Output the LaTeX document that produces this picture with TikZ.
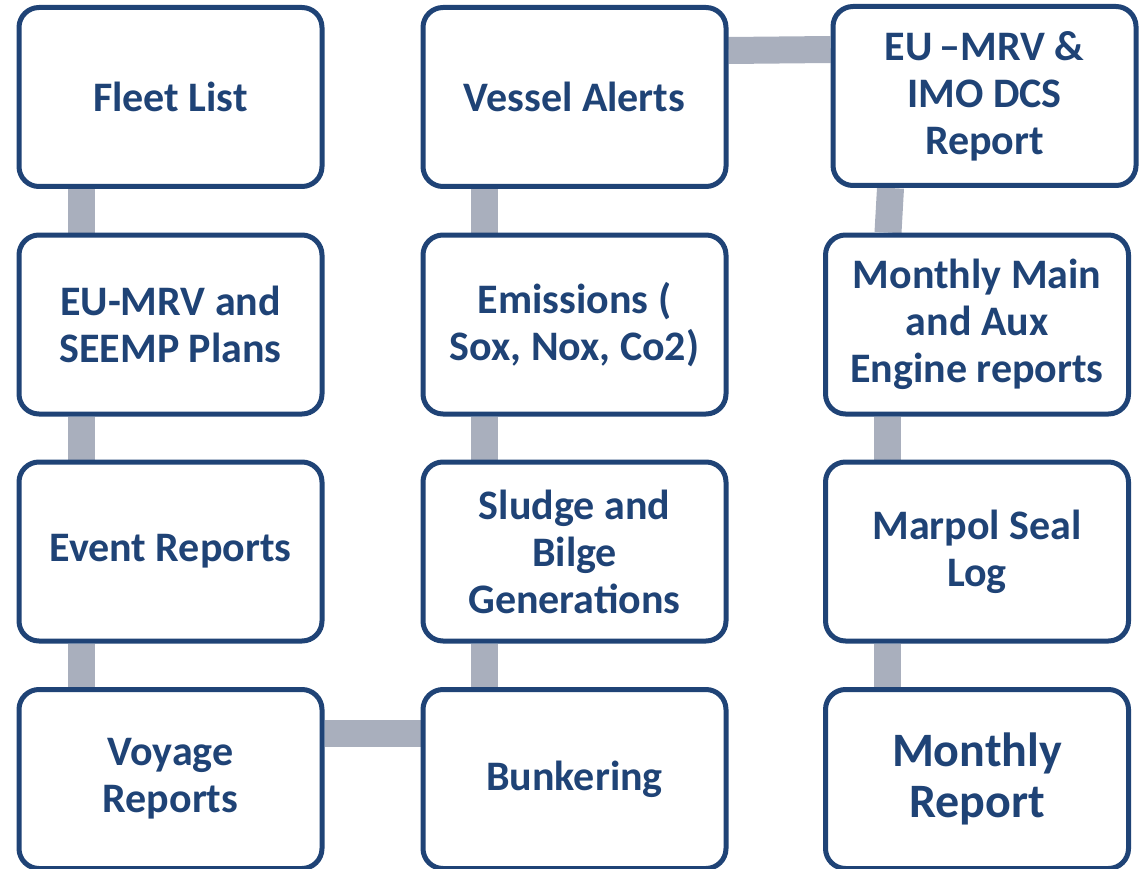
\documentclass[tikz,border=0pt]{standalone}
\usepackage{fontspec}
\setmainfont{Carlito}
\usepackage{tikz}
\usetikzlibrary{backgrounds}
\definecolor{boxblue}{RGB}{31,67,118}
\definecolor{linkgray}{RGB}{169,175,189}

\tikzset{
  report/.style={draw=boxblue, line width=5pt, fill=white, rounded corners=20pt,
    minimum width=303pt, minimum height=179pt, align=center, text=boxblue,
    font=\fontsize{42}{47}\selectfont\bfseries},
  link/.style={draw=linkgray, line width=27pt}
}

\begin{document}
\begin{tikzpicture}[x=1pt,y=-1pt]
\useasboundingbox (0,0) rectangle (1140,869);

% Prima colonna
\node [report] (fleet) at (170.5,97) {Fleet List};
\node [report] (plans) at (170.5,324.5) {EU-MRV and\\SEEMP Plans};
\node [report] (event) at (170.5,551.5) {Event Reports};
\node [report] (voyage) at (170.5,779) {Voyage\\Reports};

% Seconda colonna
\node [report] (alerts) at (574.5,97) {Vessel Alerts};
\node [report] (emiss) at (574.5,324.5) {Emissions (\\Sox, Nox, Co2)};
\node [report] (sludge) at (574.5,551.5) {Sludge and\\Bilge\\Generations};
\node [report] (bunker) at (574.5,779) {Bunkering};

% Terza colonna
\node [report] (dcs) at (984.5,96) {EU\,--MRV \&\\IMO DCS\\Report};
\node [report] (engine) at (977,324.5) {Monthly Main\\and Aux\\Engine reports};
\node [report] (seal) at (977,551.5) {Marpol Seal\\Log};
\node [report, font=\fontsize{48}{51}\selectfont\bfseries] (monthly) at (977,779) {Monthly\\Report};

% Collegamenti
\begin{scope}[on background layer]
\draw [link] ([xshift=-89pt]fleet.south) -- ([xshift=-89pt]plans.north);
\draw [link] ([xshift=-89pt]plans.south) -- ([xshift=-89pt]event.north);
\draw [link] ([xshift=-89pt]event.south) -- ([xshift=-89pt]voyage.north);
\draw [link] ([yshift=46pt]voyage.east) -- ([yshift=46pt]bunker.west);
\draw [link] ([xshift=-90pt]bunker.north) -- ([xshift=-90pt]sludge.south);
\draw [link] ([xshift=-90pt]sludge.north) -- ([xshift=-90pt]emiss.south);
\draw [link] ([xshift=-90pt]emiss.north) -- ([xshift=-90pt]alerts.south);
\draw [link] ([yshift=46.5pt]alerts.east) -- ([yshift=46.5pt]dcs.west);
\draw [link] ([xshift=-94pt]dcs.south) -- ([xshift=-89pt]engine.north);
\draw [link] ([xshift=-90pt]engine.south) -- ([xshift=-90pt]seal.north);
\draw [link] ([xshift=-90pt]seal.south) -- ([xshift=-90pt]monthly.north);
\end{scope}

\end{tikzpicture}
\end{document}
